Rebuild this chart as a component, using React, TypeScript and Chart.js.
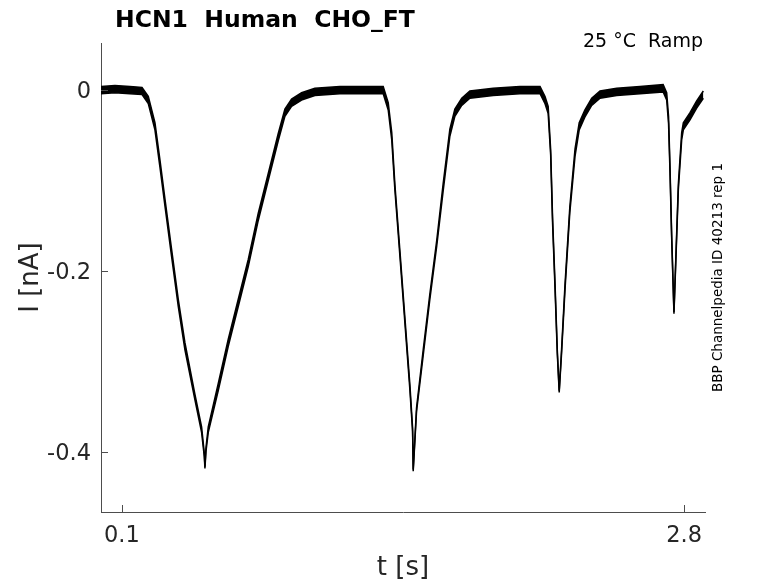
import React, { useEffect, useRef } from "react";
import { Chart, registerables } from "chart.js";

Chart.register(...registerables);

// ---- data ----
const TITLE = "HCN1  Human  CHO_FT";
const CONDITION = "25 °C  Ramp";
const SIDE_NOTE = "BBP Channelpedia ID 40213 rep 1";
const X_LABEL = "t [s]";
const Y_LABEL = "I [nA]";

const X_TICKS = [0.1, 2.8];
const X_TICK_LABELS = ["0.1", "2.8"];
const Y_TICKS = [0, -0.2, -0.4];
const Y_TICK_LABELS = ["0", "-0.2", "-0.4"];

// time [s]
const T = [
  0.0, 0.067, 0.139, 0.197,
  0.227, 0.259, 0.283, 0.307, 0.339, 0.371, 0.403, 0.451, 0.483, 0.496, 0.499,
  0.504, 0.515, 0.563, 0.611, 0.659, 0.707, 0.755, 0.803, 0.851, 0.883, 0.915, 0.963, 1.027, 1.147, 1.291, 1.355,
  1.379, 1.396, 1.411, 1.435, 1.459, 1.483, 1.496, 1.499,
  1.515, 1.547, 1.579, 1.612, 1.643, 1.675, 1.699, 1.732, 1.771, 1.883, 2.011, 2.108,
  2.132, 2.147, 2.159, 2.168, 2.18, 2.191, 2.2,
  2.211, 2.228, 2.251, 2.276, 2.296, 2.323, 2.356, 2.396, 2.476, 2.588, 2.699,
  2.716, 2.725, 2.732, 2.74, 2.751,
  2.761, 2.772, 2.788, 2.796, 2.828, 2.86, 2.892,
];

// current [nA] (centre of the trace)
const I = [
  0.0, 0.001, 0.0, -0.001,
  -0.011, -0.04, -0.081, -0.124, -0.18, -0.235, -0.283, -0.339, -0.375, -0.403, -0.417,
  -0.397, -0.375, -0.328, -0.279, -0.235, -0.191, -0.14, -0.096, -0.052, -0.025, -0.014, -0.007, -0.002, 0.0, 0.0, 0.0,
  -0.018, -0.051, -0.107, -0.18, -0.254, -0.328, -0.375, -0.42,
  -0.353, -0.29, -0.228, -0.169, -0.107, -0.047, -0.025, -0.013, -0.005, -0.002, 0.0, 0.0,
  -0.011, -0.022, -0.069, -0.143, -0.217, -0.29, -0.333,
  -0.29, -0.217, -0.132, -0.069, -0.04, -0.026, -0.013, -0.005, -0.002, 0.0, 0.002,
  -0.007, -0.033, -0.088, -0.162, -0.246,
  -0.18, -0.107, -0.051, -0.04, -0.029, -0.016, -0.005,
];

// half width of the noise band [nA]
const NOISE = [
  0.004, 0.004, 0.004, 0.004,
  0.004, 0.004, 0.004, 0.004, 0.004, 0.004, 0.004, 0.003, 0.003, 0.002, 0.001,
  0.002, 0.003, 0.004, 0.004, 0.004, 0.004, 0.004, 0.004, 0.004, 0.004, 0.004, 0.004, 0.004, 0.004, 0.004, 0.004,
  0.004, 0.004, 0.003, 0.003, 0.003, 0.003, 0.002, 0.001,
  0.002, 0.003, 0.003, 0.003, 0.004, 0.004, 0.004, 0.004, 0.004, 0.004, 0.004, 0.004,
  0.004, 0.004, 0.003, 0.003, 0.003, 0.002, 0.001,
  0.002, 0.003, 0.003, 0.004, 0.004, 0.004, 0.004, 0.004, 0.004, 0.004, 0.004,
  0.004, 0.004, 0.003, 0.002, 0.001,
  0.002, 0.003, 0.004, 0.004, 0.004, 0.004, 0.004,
];

const X_MIN = 0;
const X_MAX = 2.9;
const Y_MIN = -0.466;
const Y_MAX = 0.052;

const AXIS_COLOR = "#4d4d4d";
const TEXT_COLOR = "#262626";
const FONT = '"DejaVu Sans", "Liberation Sans", sans-serif';

const textPlugin = {
  id: "matlabTexts",
  afterDraw(chart: any) {
    const { ctx, chartArea } = chart;
    const xs = chart.scales.x;
    const ys = chart.scales.y;
    const L = chartArea.left;
    const R = chartArea.right;
    const Tp = chartArea.top;
    const B = chartArea.bottom;
    ctx.save();

    // inward tick marks
    ctx.strokeStyle = AXIS_COLOR;
    ctx.lineWidth = 1;
    ctx.beginPath();
    X_TICKS.forEach((v) => {
      const px = Math.round(xs.getPixelForValue(v)) + 0.5;
      ctx.moveTo(px, B);
      ctx.lineTo(px, B - 7);
    });
    Y_TICKS.forEach((v) => {
      const py = Math.round(ys.getPixelForValue(v)) + 0.5;
      ctx.moveTo(L, py);
      ctx.lineTo(L + 7, py);
    });
    ctx.stroke();

    // tick labels
    ctx.fillStyle = TEXT_COLOR;
    ctx.font = `22.5px ${FONT}`;
    ctx.textBaseline = "alphabetic";
    ctx.textAlign = "center";
    X_TICKS.forEach((v, i) => {
      ctx.fillText(X_TICK_LABELS[i], xs.getPixelForValue(v), B + 29.5);
    });
    ctx.textAlign = "right";
    Y_TICKS.forEach((v, i) => {
      ctx.fillText(Y_TICK_LABELS[i], L - 10, ys.getPixelForValue(v) + 8.2);
    });

    // axis titles
    ctx.font = `26px ${FONT}`;
    ctx.textAlign = "center";
    ctx.fillText(X_LABEL, (L + R) / 2, B + 63);
    ctx.save();
    ctx.translate(37.5, (Tp + B) / 2);
    ctx.rotate(-Math.PI / 2);
    ctx.fillText(Y_LABEL, 0, 0);
    ctx.restore();

    // title
    ctx.fillStyle = "#000";
    ctx.font = `bold 23.5px ${FONT}`;
    ctx.textAlign = "left";
    ctx.fillText(TITLE, 115, 26.7);

    // condition
    ctx.font = `19px ${FONT}`;
    ctx.textAlign = "right";
    ctx.fillText(CONDITION, 703, 46.5);

    // side note
    ctx.font = `13.5px ${FONT}`;
    ctx.textAlign = "center";
    ctx.save();
    ctx.translate(721.5, (Tp + B) / 2);
    ctx.rotate(-Math.PI / 2);
    ctx.fillText(SIDE_NOTE, 0, 0);
    ctx.restore();

    ctx.restore();
  },
};

export default function App() {
  const ref = useRef<HTMLCanvasElement | null>(null);

  useEffect(() => {
    if (!ref.current) return;
    const upper = T.map((t, i) => ({ x: t, y: I[i] + NOISE[i] }));
    const lower = T.map((t, i) => ({ x: t, y: I[i] - NOISE[i] }));

    const chart = new Chart(ref.current, {
      type: "line",
      data: {
        datasets: [
          {
            label: "upper",
            data: upper,
            borderColor: "#000",
            borderWidth: 1.5,
            pointRadius: 0,
            tension: 0,
            fill: false,
          },
          {
            label: "lower",
            data: lower,
            borderColor: "#000",
            borderWidth: 1.5,
            pointRadius: 0,
            tension: 0,
            fill: "-1",
            backgroundColor: "#000",
          },
        ],
      },
      options: {
        animation: false,
        responsive: false,
        maintainAspectRatio: false,
        layout: { padding: { left: 101, right: 73, top: 43, bottom: 71 } },
        plugins: {
          legend: { display: false },
          tooltip: { enabled: false },
          title: { display: false },
        },
        events: [],
        scales: {
          x: {
            type: "linear",
            min: X_MIN,
            max: X_MAX,
            ticks: { display: false },
            grid: { display: false },
            border: { display: true, color: AXIS_COLOR, width: 1 },
            afterFit: (s: any) => {
              s.height = 0;
            },
          },
          y: {
            type: "linear",
            min: Y_MIN,
            max: Y_MAX,
            ticks: { display: false },
            grid: { display: false },
            border: { display: true, color: AXIS_COLOR, width: 1 },
            afterFit: (s: any) => {
              s.width = 0;
            },
          },
        },
      },
      plugins: [textPlugin],
    } as any);

    return () => chart.destroy();
  }, []);

  return (
    <div
      style={{
        position: "fixed",
        left: 0,
        top: 0,
        width: 778,
        height: 583,
        background: "#fff",
      }}
    >
      <canvas
        ref={ref}
        width={778}
        height={583}
        style={{ display: "block", width: 778, height: 583 }}
      />
    </div>
  );
}
